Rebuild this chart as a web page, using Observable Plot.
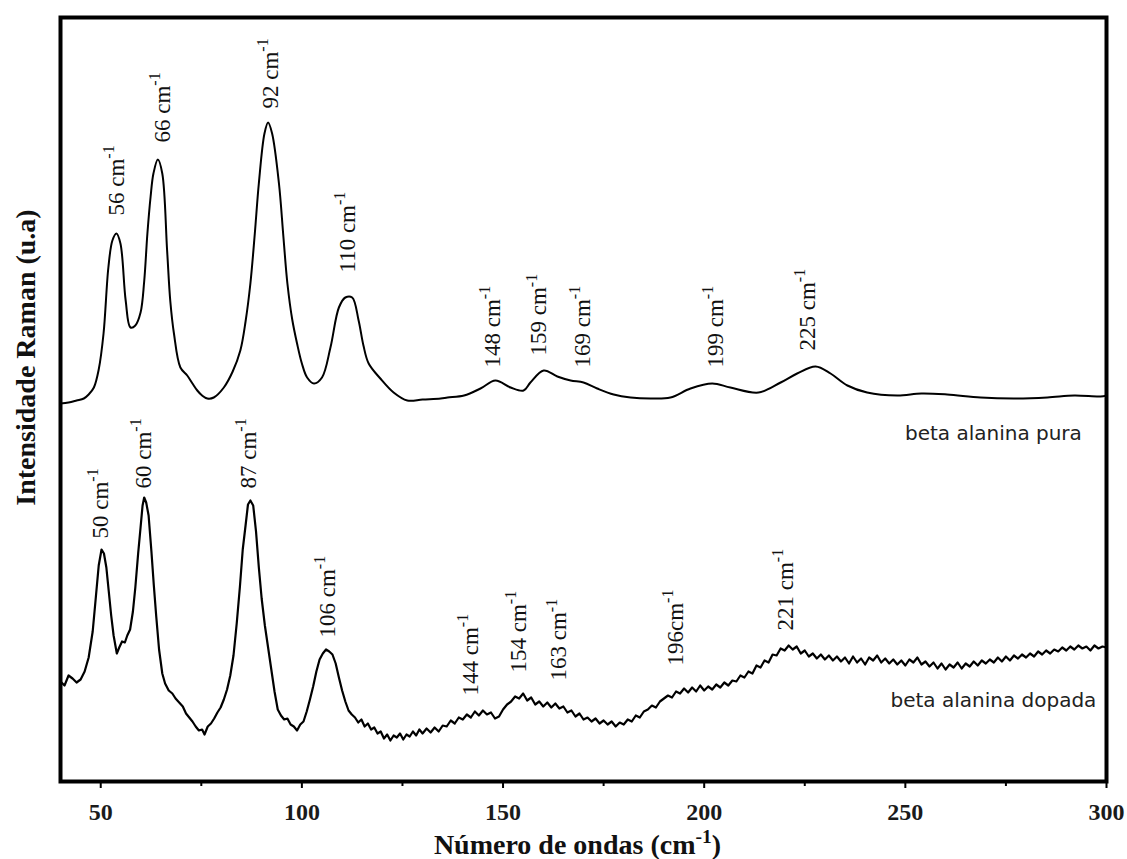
<!DOCTYPE html>
<html><head><meta charset="utf-8">
<script src="https://cdn.jsdelivr.net/npm/d3@7"></script>
<script src="https://cdn.jsdelivr.net/npm/@observablehq/plot@0.6"></script>
<style>
body{margin:0;background:#fff}
g[aria-label="x-axis tick label"]{font:bold 24px "Liberation Serif",serif;fill:#1a1a1a}
</style>
</head><body><div id="chart"></div>
<script>
// Raman spectrum — beta alanina pura (wavenumber cm-1, intensity a.u.)
const pureX = [40,42,44,45.8,47,48.3,49.5,50.7,51.9,52.9,53.9,54.9,56.2,57.4,58.6,59.9,60.8,61.6,62.4,63.1,64.2,65.3,66.5,67.3,68.2,69.8,71.5,72.8,74.0,75.2,76.5,78.1,80.6,82.8,84.7,86.0,87.2,88.3,89.3,90.7,91.6,92.6,94.3,95.4,96.4,97.6,98.8,100,101.3,103.0,105.0,107.1,109.2,110.8,112.5,114.1,115.3,116.6,119.5,122.8,126.2,130,134.5,136.2,140.3,144.4,148.1,151.9,155.1,156.8,160.1,163.5,166.8,170.0,173.4,177.5,181.7,186.7,191.6,196.6,202.0,206.5,213.5,219.0,223.1,227.7,231.4,235.6,240.5,248.0,254,260.4,268.7,276.9,285.3,292,298.5,300];
const pureI = [378,379,381,383,387,394,412,448,514,541,548,538,481,454,456,469,500,548,585,608,622,608,531,480,448,414,406,398,391,386,383,384,394,410,431,460,498,548,598,648,659,648,598,545,498,462,438,418,404,398,404,434,474,484,484,461,436,418,403,389,381,382,383,384,386,393,401,394,391,399,411,405,401,399,393,387,384,383,384,393,398,394,389,399,408,415,408,396,389,386,388,387,384,383,384,386,385,386];

// Raman spectrum — beta alanina dopada
const dopedX = [40,41,42,43,44,45,46,47,48,48.8,49.5,50.2,50.8,51.4,52,52.6,53.2,54,54.6,55.3,56,56.6,57.3,58,58.6,59.3,59.9,60.4,60.8,61.3,61.9,62.6,63.2,63.8,64.5,65.3,66,66.9,67.8,68.6,69.5,70.4,71.2,72,72.8,73.6,74.4,75.2,75.8,76.6,77.4,78.2,79,79.8,80.6,81.4,82.2,83,83.8,84.6,85.3,86,86.6,87.2,87.9,88.6,89.3,90,90.8,91.6,92.4,93.2,94,94.8,95.6,96.4,97.2,98,98.8,99.6,100.4,101.2,102,102.8,103.6,104.4,105.2,106,106.8,107.6,108.4,109.2,110,110.8,111.6,112.4,113.2,114,114.8,115.6,116.4,117.2,118,118.8,119.6,120.4,121.2,122,122.8,123.6,124.4,125.2,126,126.8,127.6,128.4,129.2,130,131,132,133,134,135,136,137,138,139,140,141,142,143,144,145,146,147,148,149,150,151,152,153,154,155,156,157,158,159,160,161,162,163,164,165,166,167,168,169,170,171,172,173,174,175,176,177,178,179,180,181,182,183,184,185,186,187,188,189,190,191,192,193,194,195,196,197,198,199,200,201,202,203,204,205,206,207,208,209,210,211,212,213,214,215,216,217,218,219,220,221,222,223,224,225,226,227,228,229,230,231,232,233,234,235,236,237,238,239,240,241,242,243,244,245,246,247,248,249,250,251,252,253,254,255,256,257,258,259,260,261,262,263,264,265,266,267,268,269,270,271,272,273,274,275,276,277,278,279,280,281,282,283,284,285,286,287,288,289,290,291,292,293,294,295,296,297,298,299,300];
const dopedI = [100,96,106,103,99,102,110,124,150,185,216,232,228,214,190,166,146,128,134,140,139,146,152,170,194,228,254,276,284,279,266,230,196,165,132,108,98,91,88,83,79,75,68,64,60,55,51,52,47,55,58,63,69,74,82,92,106,126,158,195,232,256,277,281,276,250,214,183,156,134,112,90,72,66,62,63,57,55,51,57,60,70,82,95,110,122,128,132,130,127,118,104,91,80,71,67,64,59,62,55,58,52,54,48,50,43,47,41,46,44,48,42,47,45,50,46,52,48,53,49,54,50,56,55,61,58,64,62,67,64,70,66,71,67,69,63,65,72,77,80,85,83,88,81,84,77,80,75,79,74,78,73,75,69,71,65,68,62,64,60,63,58,61,57,60,55,59,57,62,60,66,64,70,72,76,74,80,83,86,84,90,88,93,89,94,90,96,91,95,92,97,94,99,96,101,100,106,104,110,108,116,114,121,119,127,126,133,131,136,132,135,128,131,125,128,123,127,122,126,121,125,120,124,118,125,119,123,117,124,121,126,119,123,118,122,117,121,116,122,119,124,117,120,115,119,113,118,112,117,114,119,113,118,115,120,116,121,118,122,119,124,120,125,121,126,123,127,124,128,125,130,127,131,128,132,130,134,131,135,132,136,133,135,131,136,133,135,134];

// Peak annotations
const pureLabelText = ["56 cm-1","66 cm-1","92 cm-1","110 cm-1","148 cm-1","159 cm-1","169 cm-1","199 cm-1","225 cm-1"];
const pureLabelX = [53.9,65.3,92.2,111.3,147.3,158.9,169.7,202.8,225.6];
const pureLabelI = [566,639,673,509,414,426,414,414,431];
const dopedLabelText = ["50 cm-1","60 cm-1","87 cm-1","106 cm-1","144 cm-1","154 cm-1","163 cm-1","196cm-1","221 cm-1"];
const dopedLabelX = [49.9,60.7,86.8,106.3,141.9,153.9,163.9,192.9,220.2];
const dopedLabelI = [243,293,293,144,86,109,101,116,151];

// Series names
const seriesNames = ["beta alanina pura","beta alanina dopada"];
const seriesNameX = [249.9,246.3];
const seriesNameI = [348,81];

// Axis
const xTicks = [50,100,150,200,250,300];
const xMinorTicks = [75,125,175,225,275];
const xTitle = "Número de ondas (cm-1)";
const yTitle = "Intensidade Raman (u.a)";

const pure = pureX.map((x,i)=>({x, y: pureI[i]}));
const doped = dopedX.map((x,i)=>({x, y: dopedI[i]}));
const labels = pureLabelText.map((t,i)=>({t, x: pureLabelX[i], y: pureLabelI[i]}))
  .concat(dopedLabelText.map((t,i)=>({t, x: dopedLabelX[i], y: dopedLabelI[i]})));
const names = seriesNames.map((t,i)=>({t, x: seriesNameX[i], y: seriesNameI[i]}));

const plot = Plot.plot({
  width: 1127, height: 859,
  marginLeft: 60, marginRight: 21, marginTop: 17, marginBottom: 78,
  x: {domain: [40,300]},
  y: {domain: [0,764], axis: null},
  marks: [
    Plot.line(pure, {x:"x", y:"y", stroke:"#000", strokeWidth:2, curve:"catmull-rom"}),
    Plot.line(doped, {x:"x", y:"y", stroke:"#000", strokeWidth:2.2}),
    Plot.text(labels, {x:"x", y:"y", text:"t", rotate:-90, textAnchor:"start", lineAnchor:"middle",
      fontSize:23, fontFamily:"Liberation Serif", fill:"#111"}),
    Plot.text(names, {x:"x", y:"y", text:"t", textAnchor:"start", lineAnchor:"middle",
      fontSize:20, fontFamily:"DejaVu Sans", fill:"#222"}),
    Plot.axisX({ticks: xTicks, tickSize: 7, tickPadding: 14, strokeWidth: 2, label: null}),
    Plot.axisX({ticks: xMinorTicks, tickSize: 5, strokeWidth: 2, tickFormat: () => "", label: null}),
    Plot.frame({stroke:"#000", strokeWidth:4}),
    Plot.text([xTitle], {frameAnchor:"bottom", dy:64, dx:-6, textAnchor:"middle", lineAnchor:"middle",
      fontSize:28, fontWeight:"bold", fontFamily:"Liberation Serif", fill:"#111"}),
    Plot.text([yTitle], {frameAnchor:"left", dx:-34, dy:-42, rotate:-90, textAnchor:"middle", lineAnchor:"middle",
      fontSize:28, fontWeight:"bold", fontFamily:"Liberation Serif", fill:"#111"})
  ]
});

// superscripts for "-1"
const ns = "http://www.w3.org/2000/svg";
plot.querySelectorAll("text").forEach(t => {
  const s = t.textContent;
  const i = s.indexOf("-1");
  if (i < 0) return;
  const before = s.slice(0,i), after = s.slice(i+2);
  while (t.firstChild) t.removeChild(t.firstChild);
  const a = document.createElementNS(ns,"tspan"); a.textContent = before; t.appendChild(a);
  const b = document.createElementNS(ns,"tspan"); b.textContent = "-1";
  b.setAttribute("dy","-0.6em"); b.setAttribute("font-size","0.7em"); t.appendChild(b);
  if (after) {
    const c = document.createElementNS(ns,"tspan"); c.textContent = after;
    c.setAttribute("dy","0.42em"); t.appendChild(c);
  }
});
document.getElementById("chart").appendChild(plot);
</script>
</body></html>
